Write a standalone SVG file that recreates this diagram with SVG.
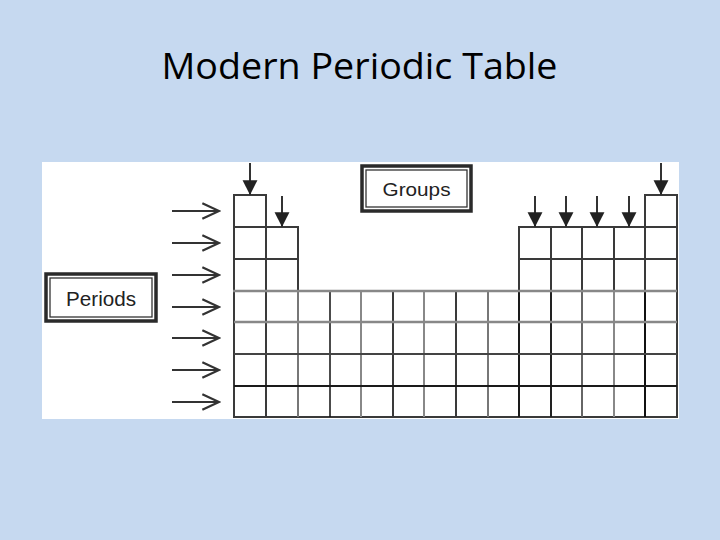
<svg xmlns="http://www.w3.org/2000/svg" width="720" height="540" viewBox="0 0 720 540">
  <style>
    .title { font-family: "Open Sans", "Liberation Sans", sans-serif; font-size: 36px; fill: #000; }
    .lbl { font-family: "Liberation Sans", Arial, sans-serif; fill: #222; }
    .cell { fill: #fff; stroke: #3a3a3a; stroke-width: 2; }
    .gline { stroke: #888; stroke-width: 2.5; }
    .box-outer { fill: #fff; stroke: #2a2a2a; stroke-width: 3.5; }
    .box-inner { fill: none; stroke: #333; stroke-width: 1.3; }
    .parr { stroke: #333; stroke-width: 2; fill: none; marker-end: url(#chev); }
    .garr { stroke: #333; stroke-width: 2; fill: none; marker-end: url(#tri); }
  </style>
  <defs>
    <marker id="chev" markerUnits="userSpaceOnUse" markerWidth="20" markerHeight="20" viewBox="-16 -8 18 16" refX="0" refY="0" orient="auto">
      <path d="M-15,-7 L0,0 L-15,7" fill="none" stroke="#333" stroke-width="2"/>
    </marker>
    <marker id="tri" markerUnits="userSpaceOnUse" markerWidth="16" markerHeight="16" viewBox="-14 -7 14 14" refX="0" refY="0" orient="auto">
      <path d="M-13,-6.5 L0,0 L-13,6.5 Z" fill="#222"/>
    </marker>
  </defs>

  <rect width="720" height="540" fill="#c6d9f0"/>

  <g id="title">
    <text class="title" x="359.5" y="79" text-anchor="middle" textLength="396" lengthAdjust="spacingAndGlyphs">Modern Periodic Table</text>
  </g>

  <g id="panel">
    <rect x="42" y="162" width="637" height="257" fill="#fff"/>
  </g>

  <g id="table">
    <!-- row 1 -->
    <rect class="cell" x="234" y="195" width="32" height="32"/>
    <rect class="cell" x="645" y="195" width="32" height="32"/>
    <!-- rows 2-3 -->
    <rect class="cell" x="234" y="227" width="32" height="32"/>
    <rect class="cell" x="266" y="227" width="32" height="32"/>
    <rect class="cell" x="234" y="259" width="32" height="32"/>
    <rect class="cell" x="266" y="259" width="32" height="32"/>
    <rect class="cell" x="519" y="227" width="32" height="32"/>
    <rect class="cell" x="551" y="227" width="31" height="32"/>
    <rect class="cell" x="582" y="227" width="32" height="32"/>
    <rect class="cell" x="614" y="227" width="31" height="32"/>
    <rect class="cell" x="645" y="227" width="32" height="32"/>
    <rect class="cell" x="519" y="259" width="32" height="32"/>
    <rect class="cell" x="551" y="259" width="31" height="32"/>
    <rect class="cell" x="582" y="259" width="32" height="32"/>
    <rect class="cell" x="614" y="259" width="31" height="32"/>
    <rect class="cell" x="645" y="259" width="32" height="32"/>
    <!-- rows 4-7 full grid -->
    <rect class="cell" x="234" y="291" width="443" height="126"/>
    <g stroke="#3a3a3a" stroke-width="2">
      <line x1="266" y1="291" x2="266" y2="417"/>
      <line x1="298" y1="291" x2="298" y2="417" stroke="#777"/>
      <line x1="330" y1="291" x2="330" y2="417" stroke="#111" stroke-width="1.5"/>
      <line x1="361" y1="291" x2="361" y2="417" stroke="#888"/>
      <line x1="393" y1="291" x2="393" y2="417"/>
      <line x1="424" y1="291" x2="424" y2="417" stroke="#888"/>
      <line x1="456" y1="291" x2="456" y2="417"/>
      <line x1="488" y1="291" x2="488" y2="417" stroke="#777"/>
      <line x1="519" y1="291" x2="519" y2="417" stroke="#1a1a1a"/>
      <line x1="551" y1="291" x2="551" y2="417" stroke="#222"/>
      <line x1="582" y1="291" x2="582" y2="417" stroke="#666"/>
      <line x1="614" y1="291" x2="614" y2="417" stroke="#888"/>
      <line x1="645" y1="291" x2="645" y2="417" stroke="#111"/>
      <line x1="234" y1="322" x2="677" y2="322" stroke="#888" stroke-width="2.5"/>
      <line x1="234" y1="354" x2="677" y2="354" stroke="#444"/>
      <line x1="234" y1="386" x2="677" y2="386" stroke="#1a1a1a"/>
    </g>
    <line class="gline" x1="233" y1="291" x2="677" y2="291"/>
  </g>

  <g id="groups-label">
    <rect class="box-outer" x="362" y="166" width="109" height="45"/>
    <rect class="box-inner" x="366" y="170" width="101" height="37"/>
    <text class="lbl" x="416.5" y="196" font-size="19" text-anchor="middle" textLength="68" lengthAdjust="spacingAndGlyphs">Groups</text>
  </g>

  <g id="periods-label">
    <rect class="box-outer" x="46" y="274" width="110" height="47"/>
    <rect class="box-inner" x="50" y="278" width="102" height="39"/>
    <text class="lbl" x="101" y="306" font-size="20" text-anchor="middle" textLength="70" lengthAdjust="spacingAndGlyphs">Periods</text>
  </g>

  <g id="connectors">
    <line class="parr" x1="172" y1="211" x2="219" y2="211"/>
    <line class="parr" x1="172" y1="243" x2="219" y2="243"/>
    <line class="parr" x1="172" y1="275" x2="219" y2="275"/>
    <line class="parr" x1="172" y1="307" x2="219" y2="307"/>
    <line class="parr" x1="172" y1="338" x2="219" y2="338"/>
    <line class="parr" x1="172" y1="370" x2="219" y2="370"/>
    <line class="parr" x1="172" y1="402" x2="219" y2="402"/>

    <line class="garr" x1="250" y1="163" x2="250" y2="195"/>
    <line class="garr" x1="282" y1="196" x2="282" y2="227"/>
    <line class="garr" x1="535" y1="196" x2="535" y2="227"/>
    <line class="garr" x1="566" y1="196" x2="566" y2="227"/>
    <line class="garr" x1="597" y1="196" x2="597" y2="227"/>
    <line class="garr" x1="629" y1="196" x2="629" y2="227"/>
    <line class="garr" x1="661" y1="163" x2="661" y2="195"/>
  </g>
</svg>
